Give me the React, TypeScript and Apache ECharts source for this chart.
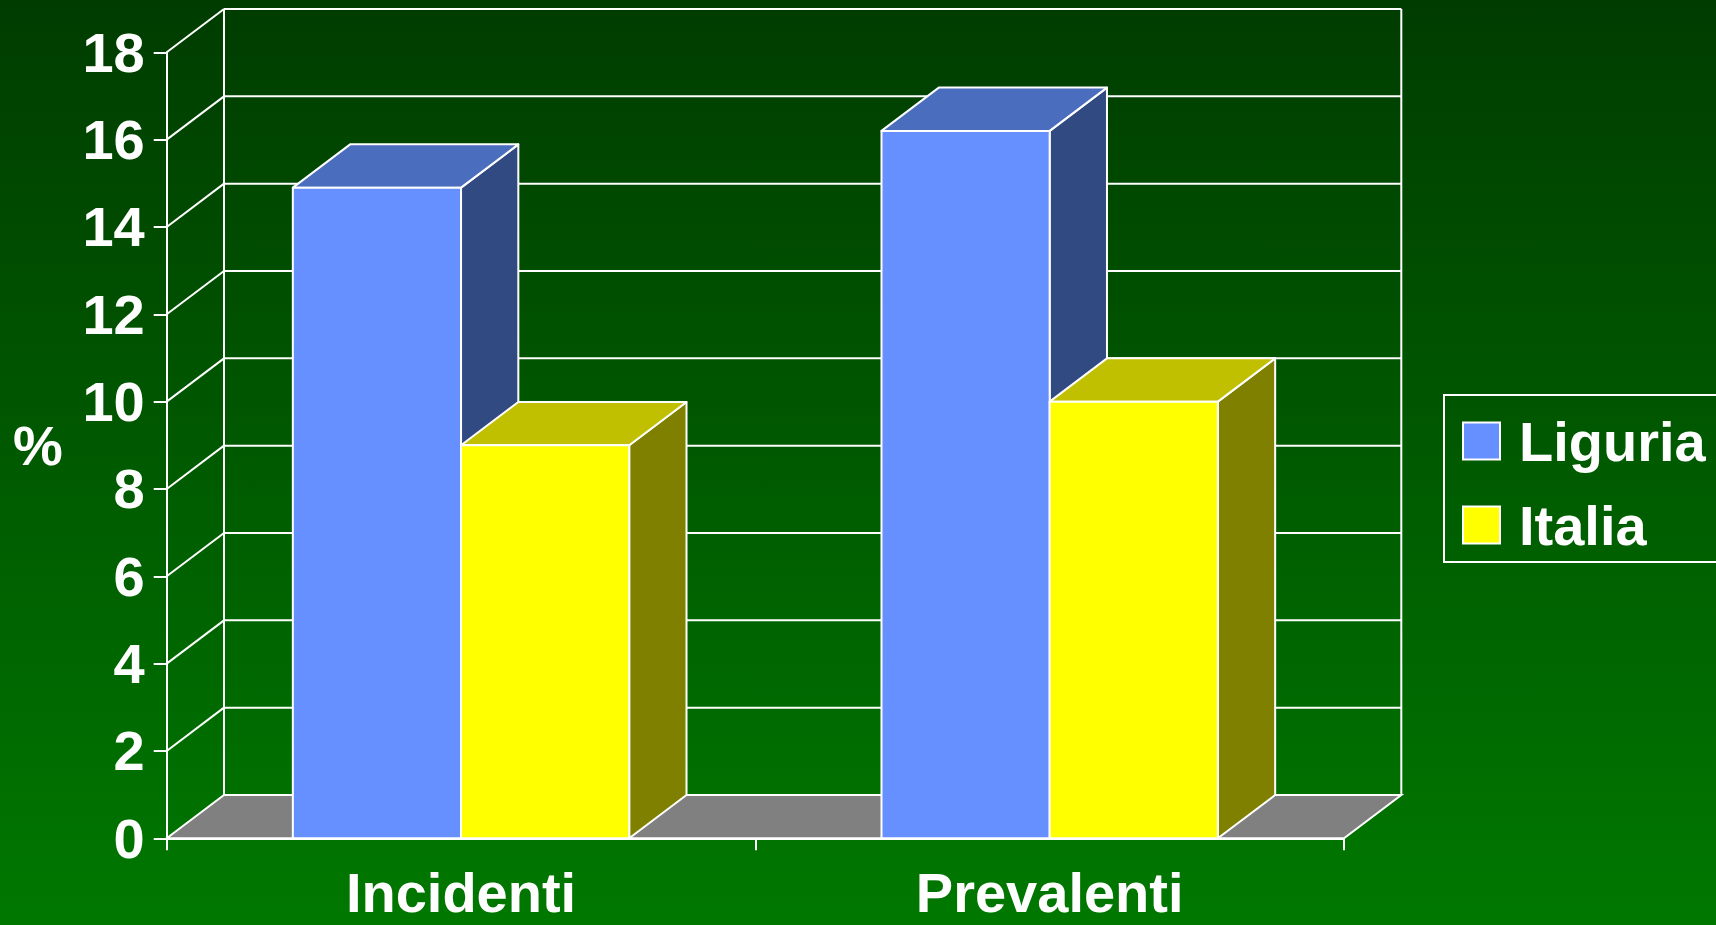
import React, { useEffect, useRef } from 'react';
import * as echarts from 'echarts';

const categories = ['Incidenti', 'Prevalenti'];
const liguria = [14.9, 16.2];
const italia = [9.0, 10.0];
const seriesNames = ['Liguria', 'Italia'];
const yTicks = [0, 2, 4, 6, 8, 10, 12, 14, 16, 18];
const yAxisName = '%';

const DX = 57.3;
const DY = -43.3;
const FONT = "'Liberation Sans', Arial, Helvetica, sans-serif";
const WHITE = '#FFFFFF';

const LIGURIA_COLORS = { front: '#6690FF', top: '#4A6DBD', side: '#324A82' };
const ITALIA_COLORS = { front: '#FFFF00', top: '#C0C000', side: '#808000' };

function barRenderer(slot: number, c: { front: string; top: string; side: string }) {
  return (params: any, api: any) => {
    const cat = api.value(0);
    const v = api.value(1);
    const base = api.coord([cat, 0]);
    const top = api.coord([cat, v]);
    const band = api.size([1, 0])[0];
    const w = band / 3.5;
    const x0 = base[0] - w + slot * w;
    const x1 = x0 + w;
    const yT = top[1];
    const yB = base[1];
    const st = { stroke: WHITE, lineWidth: 2, lineJoin: 'round' };
    return {
      type: 'group',
      children: [
        {
          type: 'polygon',
          shape: { points: [[x1, yT], [x1 + DX, yT + DY], [x1 + DX, yB + DY], [x1, yB]] },
          style: { fill: c.side, ...st },
        },
        {
          type: 'polygon',
          shape: { points: [[x0, yT], [x0 + DX, yT + DY], [x1 + DX, yT + DY], [x1, yT]] },
          style: { fill: c.top, ...st },
        },
        {
          type: 'rect',
          shape: { x: x0, y: yT, width: w, height: yB - yT },
          style: { fill: c.front, ...st },
        },
      ],
    };
  };
}

const yMax = yTicks[yTicks.length - 1];

function wallRenderer(params: any, api: any) {
  const v = api.value(1);
  const cs = params.coordSys;
  const x0 = cs.x;
  const x1 = cs.x + cs.width;
  const y = api.coord([0, v])[1];
  const y0 = api.coord([0, 0])[1];
  const ls = { stroke: WHITE, lineWidth: 2 };
  const children: any[] = [];
  if (v === 0) {
    children.push({
      type: 'polygon',
      shape: { points: [[x0, y], [x0 + DX, y + DY], [x1 + DX, y + DY], [x1, y]] },
      style: { fill: '#808080', ...ls },
    });
  } else {
    children.push({
      type: 'line',
      shape: { x1: x0 + DX, y1: y + DY, x2: x1 + DX, y2: y + DY },
      style: ls,
    });
    children.push({
      type: 'line',
      shape: { x1: x0, y1: y, x2: x0 + DX, y2: y + DY },
      style: ls,
    });
  }
  if (v === yMax) {
    children.push({
      type: 'line',
      shape: { x1: x0 + DX, y1: y0 + DY, x2: x0 + DX, y2: y + DY },
      style: ls,
    });
    children.push({
      type: 'line',
      shape: { x1: x1 + DX, y1: y0 + DY, x2: x1 + DX, y2: y + DY },
      style: ls,
    });
  }
  return { type: 'group', children };
}

export default function App() {
  const ref = useRef<HTMLDivElement>(null);

  useEffect(() => {
    if (!ref.current) return;
    const chart = echarts.init(ref.current, undefined, { renderer: 'svg' });
    const option: any = {
      animation: false,
      backgroundColor: {
        type: 'linear',
        x: 0,
        y: 0,
        x2: 0,
        y2: 1,
        colorStops: [
          { offset: 0, color: '#003C00' },
          { offset: 1, color: '#007800' },
        ],
      },
      grid: { left: 166.7, top: 52.3, right: 372, bottom: 86.7 },
      legend: {
        orient: 'vertical',
        left: 1444,
        top: 395,
        padding: [18, 30, 9, 18],
        itemGap: 28,
        itemWidth: 37,
        itemHeight: 37,
        borderColor: WHITE,
        borderWidth: 2,
        textStyle: {
          color: WHITE,
          fontSize: 56,
          fontWeight: 'bold',
          fontFamily: FONT,
          lineHeight: 56,
          padding: [0, 0, 0, 14],
        },
        data: [
          { name: seriesNames[0], icon: 'rect', itemStyle: { color: LIGURIA_COLORS.front, borderColor: WHITE, borderWidth: 2 } },
          { name: seriesNames[1], icon: 'rect', itemStyle: { color: ITALIA_COLORS.front, borderColor: WHITE, borderWidth: 2 } },
        ],
      },
      xAxis: {
        type: 'category',
        data: categories,
        boundaryGap: true,
        axisLine: { show: true, lineStyle: { color: WHITE, width: 2 } },
        axisTick: { show: true, length: 12, interval: 0, lineStyle: { color: WHITE, width: 2 } },
        axisLabel: {
          color: WHITE,
          fontSize: 56,
          fontWeight: 'bold',
          fontFamily: FONT,
          lineHeight: 40,
          margin: 34,
          interval: 0,
        },
        splitLine: { show: false },
        z: 10,
      },
      yAxis: {
        type: 'value',
        min: 0,
        max: yMax,
        interval: 2,
        name: yAxisName,
        nameLocation: 'middle',
        nameRotate: 0,
        nameGap: 104,
        nameTextStyle: { color: WHITE, fontSize: 56, fontWeight: 'bold', fontFamily: FONT },
        axisLine: { show: true, lineStyle: { color: WHITE, width: 2 } },
        axisTick: { show: true, length: 13, lineStyle: { color: WHITE, width: 2 } },
        axisLabel: {
          color: WHITE,
          fontSize: 56,
          fontWeight: 'bold',
          fontFamily: FONT,
          margin: 22,
        },
        splitLine: { show: false },
        z: 10,
      },
      series: [
        {
          name: 'wall',
          type: 'custom',
          renderItem: wallRenderer,
          data: yTicks.map((v) => [0, v]),
          z: 1,
          silent: true,
        },
        {
          name: seriesNames[0],
          type: 'custom',
          renderItem: barRenderer(0, LIGURIA_COLORS),
          itemStyle: { color: LIGURIA_COLORS.front },
          data: categories.map((_, i) => [i, liguria[i]]),
          z: 2,
        },
        {
          name: seriesNames[1],
          type: 'custom',
          renderItem: barRenderer(1, ITALIA_COLORS),
          itemStyle: { color: ITALIA_COLORS.front },
          data: categories.map((_, i) => [i, italia[i]]),
          z: 3,
        },
      ],
    };
    chart.setOption(option);
    return () => {
      chart.dispose();
    };
  }, []);

  return (
    <div
      ref={ref}
      style={{ position: 'fixed', left: 0, top: 0, width: 1716, height: 925 }}
    />
  );
}
